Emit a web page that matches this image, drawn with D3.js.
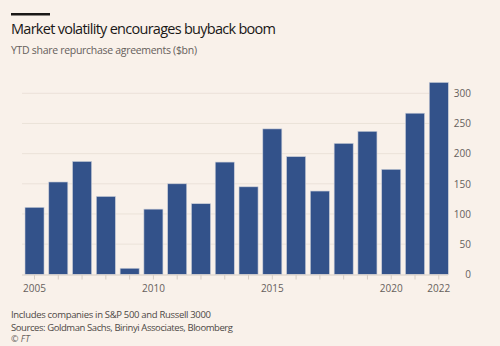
<!DOCTYPE html>
<html>
<head>
<meta charset="utf-8">
<script src="https://cdn.jsdelivr.net/npm/d3@7"></script>
<style>
  body { margin: 0; background: #f9f1ea; }
  svg { display: block; font-family: "Open Sans", "Noto Sans", sans-serif; }
</style>
</head>
<body>
<div id="content"></div>
<script>
// YTD buyback agreements, $bn
var years = [2005, 2006, 2007, 2008, 2009, 2010, 2011, 2012, 2013, 2014,
             2015, 2016, 2017, 2018, 2019, 2020, 2021, 2022];
var values = [111, 153, 187, 129, 10, 108, 150, 117, 186, 145,
              241, 195, 138, 217, 237, 174, 267, 318];
var yTicks = [0, 50, 100, 150, 200, 250, 300];
var xLabels = [2005, 2010, 2015, 2020, 2022];

var W = 500, H = 346;
var svg = d3.select('#content').append('svg')
    .attr('width', W)
    .attr('height', H);

svg.append('rect').attr('width', W).attr('height', H).attr('fill', '#f9f1ea');

// FT header bar
svg.append('rect').attr('x', 11).attr('y', 13).attr('width', 39).attr('height', 2.5).attr('fill', '#1a1817');

svg.append('text')
    .attr('x', 11).attr('y', 34)
    .attr('font-size', 14.5)
    .attr('fill', '#1a1817')
    .attr('textLength', 265)
    .text('Market volatility encourages buyback boom');

svg.append('text')
    .attr('x', 11).attr('y', 54)
    .attr('font-size', 10.5)
    .attr('fill', '#66605c')
    .attr('textLength', 186)
    .text('YTD share repurchase agreements ($bn)');

var x = d3.scaleBand()
    .domain(years)
    .range([25, 448.3])
    .paddingInner(0.2)
    .paddingOuter(0);

var y = d3.scaleLinear()
    .domain([0, 300])
    .range([274.3, 93.3]);

// gridlines
svg.append('g').selectAll('line')
    .data(yTicks.slice(1))
    .enter().append('line')
    .attr('x1', 22).attr('x2', 448)
    .attr('y1', function(d) { return y(d); })
    .attr('y2', function(d) { return y(d); })
    .attr('stroke', '#ebe2d9')
    .attr('stroke-width', 1);

// right y axis
var yAxis = svg.append('g')
    .attr('transform', 'translate(471,0)')
    .call(d3.axisRight(y).tickValues(yTicks).tickSize(0).tickPadding(0));
yAxis.select('.domain').remove();
yAxis.selectAll('text')
    .attr('text-anchor', 'end')
    .attr('fill', '#66605c')
    .attr('font-size', 10)
    .attr('font-family', '"Open Sans", sans-serif');

// bars
svg.append('g').selectAll('rect')
    .data(values)
    .enter().append('rect')
    .attr('x', function(d, i) { return x(years[i]); })
    .attr('y', function(d) { return y(d); })
    .attr('width', x.bandwidth())
    .attr('height', function(d) { return y(0) - y(d); })
    .attr('fill', '#33528a')
    .attr('stroke', '#c9cdd8')
    .attr('stroke-width', 0.6);

// x axis
var xAxis = svg.append('g')
    .attr('transform', 'translate(0,274.5)')
    .call(d3.axisBottom(x).tickSize(5).tickPadding(5)
        .tickFormat(function(d) { return xLabels.indexOf(d) >= 0 ? d : ''; }));
xAxis.select('.domain')
    .attr('d', 'M22,0.5H448')
    .attr('stroke', '#d6cdc4');
xAxis.selectAll('.tick line').attr('stroke', '#d6cdc4');
xAxis.selectAll('text')
    .attr('fill', '#66605c')
    .attr('font-size', 10)
    .attr('font-family', '"Open Sans", sans-serif');

// footer
var notes = ['Includes companies in S&P 500 and Russell 3000',
             'Sources: Goldman Sachs, Birinyi Associates, Bloomberg'];
var noteWidths = [200, 222];
svg.append('g').selectAll('text')
    .data(notes)
    .enter().append('text')
    .attr('x', 11)
    .attr('y', function(d, i) { return 318 + i * 12.5; })
    .attr('font-size', 9.5)
    .attr('fill', '#4d4845')
    .attr('textLength', function(d, i) { return noteWidths[i]; })
    .text(function(d) { return d; });

svg.append('text')
    .attr('x', 11).attr('y', 342)
    .attr('font-size', 9)
    .attr('font-style', 'italic')
    .attr('fill', '#66605c')
    .text('© FT');
</script>
</body>
</html>
